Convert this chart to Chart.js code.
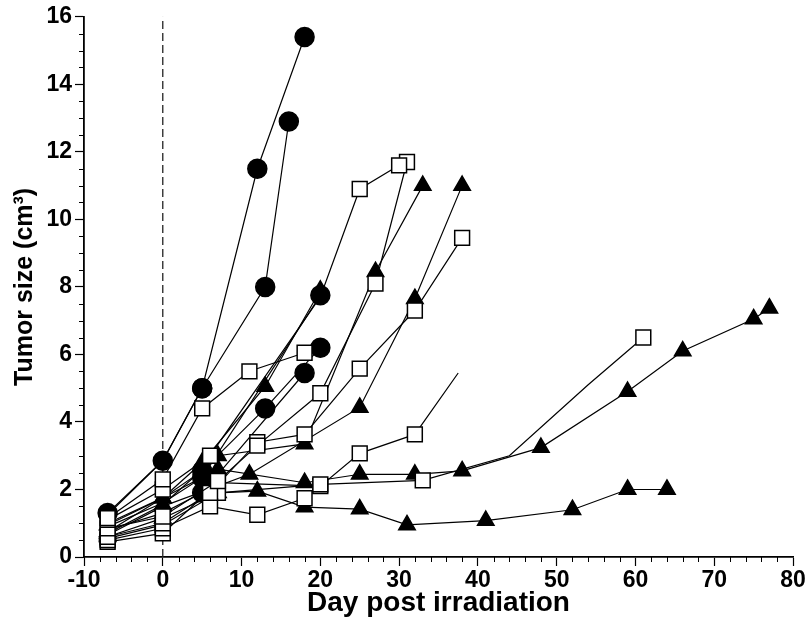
<!DOCTYPE html>
<html>
<head>
<meta charset="utf-8">
<script src="https://cdn.jsdelivr.net/npm/chart.js@4.4.1/dist/chart.umd.min.js"></script>
<style>
  html, body { margin: 0; padding: 0; background: #fff; }
</style>
</head>
<body>
<canvas id="tumorChart" width="809" height="634"></canvas>
<script>
// each tumour: [day, volume cm3]
const tumor1 = [[-7,1.3],[0,2.85],[5,5.0],[12,11.5],[18,15.4]];
const tumor2 = [[-7,1.25],[0,2.85],[5,5.0],[13,8.0],[16,12.9]];
const tumor3 = [[-7,1.15],[0,2.3],[5,4.4],[11,5.5],[18,6.05]];
const tumor4 = [[-7,1.0],[0,1.75],[5,2.55],[13,4.4],[20,6.2]];
const tumor5 = [[-7,0.9],[0,1.6],[5,2.35],[20,7.75]];
const tumor6 = [[-7,0.8],[0,1.3],[5,1.9],[18,5.45]];
const tumor7 = [[-7,1.1],[0,2.0],[6,3.0],[20,7.7],[25,10.9],[30,11.6]];
const tumor8 = [[-7,0.95],[0,1.75],[5,2.8],[13,5.05],[20,7.9]];
const tumor9 = [[-7,0.7],[0,1.55],[7,3.0],[18,3.35],[27,8.45],[33,11.0]];
const tumor10 = [[-7,0.85],[0,1.2],[7,2.25],[12,3.3],[20,4.85],[27,8.1],[31,11.7]];
const tumor11 = [[-7,0.6],[0,1.0],[6,1.9],[12,3.4],[18,3.63],[25,5.58],[32,7.3],[38,9.45]];
const tumor12 = [[-7,0.65],[0,1.5],[11,2.45],[25,4.43],[32,7.65],[38,11.0]];
const tumor13 = [[-7,0.5],[0,0.85],[6,1.5],[12,1.25],[18,1.74]];
const tumor14 = [[-7,0.6],[0,1.15],[7,1.9],[12,1.95],[18,1.48],[25,1.42],[31,0.95],[41,1.08],[52,1.4],[59,2.0],[64,2.0]];
const tumor15 = [[-7,0.75],[0,1.75],[7,2.6],[18,2.2],[25,2.45],[32,2.45],[38,2.55],[48,3.24],[59,4.9],[66,6.1],[75,7.05],[77,7.37]];
const tumor16 = [[-7,0.55],[0,0.95],[7,1.9],[20,2.15],[33,2.27],[44,3.0],[54,5.1],[61,6.5]];
const tumor17 = [[-7,0.45],[0,0.7],[7,2.2],[20,2.1],[25,3.07],[32,3.63],[37.5,5.45]];

const circleTumors = [tumor1, tumor2, tumor4, tumor5, tumor6];
const squareTumors = [tumor3, tumor7, tumor10, tumor11, tumor13, tumor16, tumor17];
const triangleTumors = [tumor8, tumor9, tumor12, tumor14, tumor15];

// points where the line carries on but no symbol shows (covered / broken in the figure)
const hiddenPoints = [
    [tumor2, 0], [tumor2, 1],
    [tumor4, 0], [tumor4, 1],
    [tumor5, 0], [tumor5, 1],
    [tumor6, 0], [tumor6, 1],
    [tumor7, 3],
    [tumor16, 5], [tumor16, 6],
    [tumor17, 6]
];

const irradiationDay = [[0,0],[0,16]];

const FONT = "'Liberation Sans', Arial, sans-serif";

function isHidden(series, idx) {
    return hiddenPoints.some(([s, i]) => s === series && i === idx);
}

function makeDataset(series, style) {
    const base = {
        data: series.map(([x, y]) => ({ x, y })),
        showLine: true,
        borderColor: '#000',
        borderWidth: 1.2,
        pointBorderColor: '#000',
        pointBorderWidth: 1.5,
        clip: false
    };
    const radius = r => series.map((_, i) => isHidden(series, i) ? 0 : r);
    if (style === 'circle') {
        return { ...base, pointStyle: 'circle', pointBackgroundColor: '#000',
            pointRadius: radius(9.5), order: 2 };
    }
    if (style === 'rect') {
        return { ...base, pointStyle: 'rect', pointBackgroundColor: '#fff',
            pointRadius: radius(10.5), order: 1 };
    }
    return { ...base, pointStyle: 'triangle', pointBackgroundColor: '#000',
        pointRadius: radius(9.5), order: 3 };
}

const datasets = [
    {
        data: irradiationDay.map(([x, y]) => ({ x, y })),
        showLine: true,
        borderColor: '#222',
        borderWidth: 1.3,
        borderDash: [8, 4],
        pointRadius: 0,
        order: 10
    },
    ...squareTumors.map(s => makeDataset(s, 'rect')),
    ...triangleTumors.map(s => makeDataset(s, 'triangle')),
    ...circleTumors.map(s => makeDataset(s, 'circle'))
];

// minor ticks drawn off the library's own scales
const minorTicks = {
    id: 'minorTicks',
    afterDraw(chart) {
        const { ctx, scales: { x, y } } = chart;
        ctx.save();
        ctx.strokeStyle = '#000';
        ctx.lineWidth = 1;
        ctx.beginPath();
        for (let v = -10; v <= 80; v += 2) {
            if (v % 10 === 0) continue;
            const px = Math.round(x.getPixelForValue(v)) + 0.5;
            ctx.moveTo(px, y.bottom);
            ctx.lineTo(px, y.bottom + 5);
        }
        for (let v = 0; v <= 16; v += 0.5) {
            if (v % 2 === 0) continue;
            const py = Math.round(y.getPixelForValue(v)) + 0.5;
            ctx.moveTo(x.left, py);
            ctx.lineTo(x.left - 5, py);
        }
        ctx.stroke();
        ctx.restore();
    }
};

new Chart(document.getElementById('tumorChart'), {
    type: 'scatter',
    data: { datasets },
    plugins: [minorTicks],
    options: {
        responsive: false,
        animation: false,
        layout: { padding: { top: 14, right: 16, left: 0, bottom: 0 } },
        plugins: { legend: { display: false }, tooltip: { enabled: false } },
        scales: {
            x: {
                type: 'linear',
                min: -10,
                max: 80,
                afterFit(scale) { scale.height = 77; },
                ticks: {
                    stepSize: 10,
                    color: '#000',
                    padding: 1,
                    font: { family: FONT, size: 23, weight: 'bold' }
                },
                grid: { drawOnChartArea: false, tickLength: 9, tickColor: '#000', tickWidth: 1.2 },
                border: { color: '#000', width: 1.8 },
                title: {
                    display: true,
                    text: 'Day post irradiation',
                    color: '#000',
                    padding: { top: 0, bottom: 14 },
                    font: { family: FONT, size: 28, weight: 'bold' }
                }
            },
            y: {
                min: 0,
                max: 16,
                afterFit(scale) { scale.width = 84; },
                ticks: {
                    stepSize: 2,
                    color: '#000',
                    padding: 3,
                    font: { family: FONT, size: 23, weight: 'bold' }
                },
                grid: { drawOnChartArea: false, tickLength: 9, tickColor: '#000', tickWidth: 1.2 },
                border: { color: '#000', width: 1.8 },
                title: {
                    display: true,
                    text: 'Tumor size (cm³)',
                    color: '#000',
                    padding: { top: 10, bottom: 0 },
                    font: { family: FONT, size: 25, weight: 'bold' }
                }
            }
        }
    }
});
</script>
</body>
</html>
